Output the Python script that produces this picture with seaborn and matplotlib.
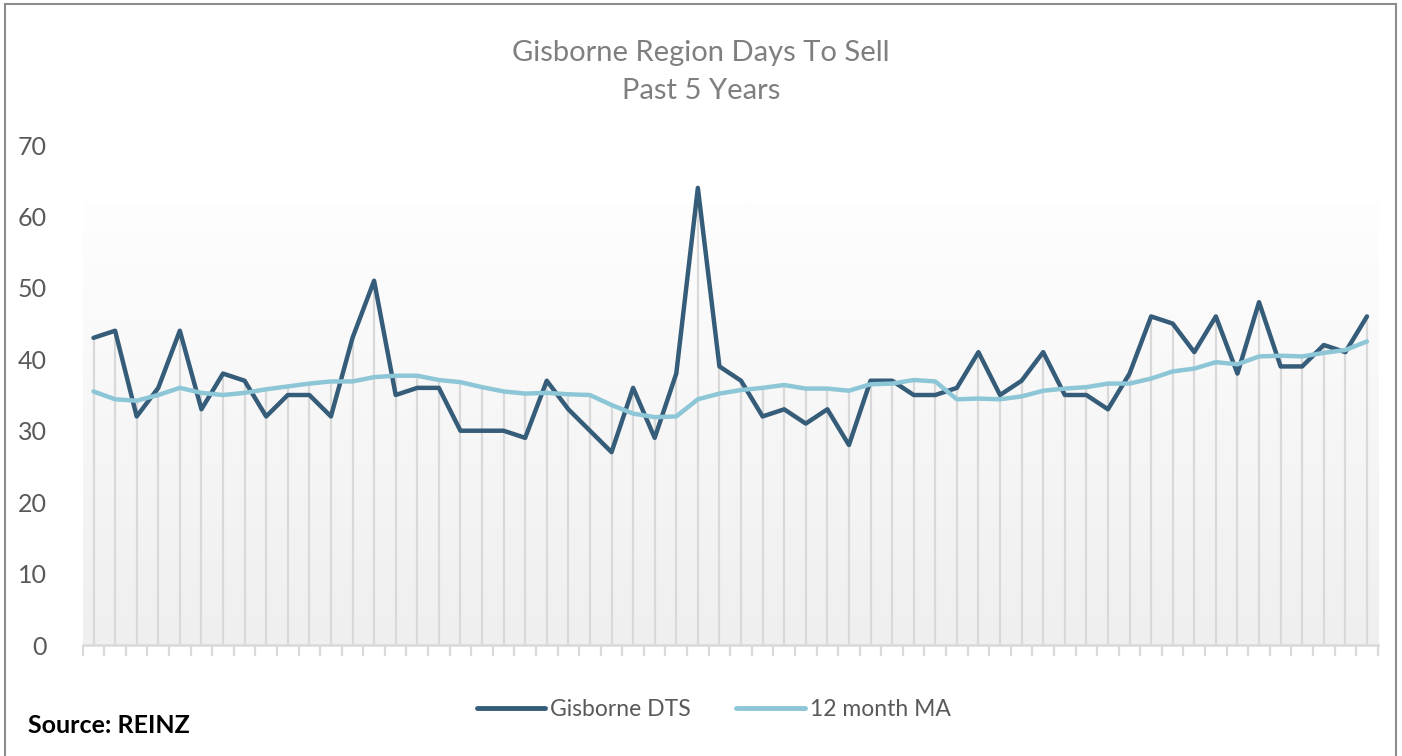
import numpy as np
import pandas as pd
import matplotlib.pyplot as plt
import seaborn as sns
from matplotlib.patches import Rectangle

sns.set_style("white")
plt.rcParams["font.family"] = ["Lato", "DejaVu Sans"]

# ------------------------------------------------------------
# Data: monthly days-to-sell, last 5 years (60 months)
# ------------------------------------------------------------
dts = [43, 44, 32, 36, 44, 33, 38, 37, 32, 35, 35, 32,
       43, 51, 35, 36, 36, 30, 30, 30, 29, 37, 33, 30,
       27, 36, 29, 38, 64, 39, 37, 32, 33, 31, 33, 28,
       37, 37, 35, 35, 36, 41, 35, 37, 41, 35, 35, 33,
       38, 46, 45, 41, 46, 38, 48, 39, 39, 42, 41, 46]
ma12 = [35.5, 34.4, 34.2, 35.0, 36.0, 35.3, 35.0, 35.3, 35.8, 36.2, 36.6, 36.9,
        36.9, 37.5, 37.7, 37.7, 37.1, 36.8, 36.1, 35.5, 35.2, 35.3, 35.1, 35.0,
        33.6, 32.4, 31.9, 32.0, 34.4, 35.2, 35.7, 36.0, 36.4, 35.9, 35.9, 35.6,
        36.5, 36.6, 37.1, 36.9, 34.4, 34.5, 34.4, 34.8, 35.6, 35.9, 36.1, 36.6,
        36.6, 37.3, 38.3, 38.7, 39.6, 39.3, 40.4, 40.5, 40.4, 40.9, 41.3, 42.5]
series_names = ["Gisborne DTS", "12 month MA"]
colors = ["#355c78", "#8dc6d6"]
yticks = [0, 10, 20, 30, 40, 50, 60, 70]

df = pd.DataFrame({"month": np.arange(len(dts)), "Gisborne DTS": dts, "12 month MA": ma12})
long = df.melt(id_vars="month", var_name="series", value_name="days")

fig = plt.figure(figsize=(14.02, 7.56), dpi=100)
ax = fig.add_axes([0.059, 0.1468, 0.9237, 0.6614])

# soft gradient plot background
grad = np.linspace(0, 1, 256).reshape(-1, 1)
ax.imshow(grad, extent=(-0.5, len(dts) - 0.5, 0, 62), origin="lower",
          cmap=sns.blend_palette(["#efefef", "#fefefe"], as_cmap=True),
          aspect="auto", zorder=0)

# drop lines from each month down to the axis
tops = np.maximum(df["Gisborne DTS"], df["12 month MA"])
ax.vlines(df["month"], 0, tops, color="#d9d9d9", lw=1.6, zorder=1)

sns.lineplot(data=long, x="month", y="days", hue="series", hue_order=series_names,
             palette=colors, lw=3.2, ax=ax, zorder=3, legend=False)

ax.set_xlim(-0.5, len(dts) - 0.5)
ax.set_ylim(0, 70)
ax.set_yticks(yticks)
ax.set_yticklabels([str(v) for v in yticks], fontsize=18, color="#595959")
ax.tick_params(axis="y", length=0, pad=26)
ax.set_xticks(np.arange(len(dts) + 1) - 0.5)
ax.set_xticklabels([])
ax.tick_params(axis="x", bottom=True, length=8, width=1.6, color="#d9d9d9", direction="out")
ax.set_xlabel("")
ax.set_ylabel("")
for s in ["top", "right", "left"]:
    ax.spines[s].set_visible(False)
ax.spines["bottom"].set_color("#d9d9d9")
ax.spines["bottom"].set_linewidth(1.8)

fig.text(0.5, 0.930, "Gisborne Region Days To Sell", ha="center", va="center",
         fontsize=21, color="#7f7f7f")
fig.text(0.5, 0.880, "Past 5 Years", ha="center", va="center",
         fontsize=21, color="#7f7f7f")

handles = [plt.Line2D([], [], color=c, lw=3.5, solid_capstyle="round") for c in colors]
fig.legend(handles, series_names, loc="center", bbox_to_anchor=(0.509, 0.061),
           ncol=2, frameon=False, fontsize=16.5, labelcolor="#595959",
           handlelength=3.0, handletextpad=0.2, columnspacing=2.0)

fig.text(0.02, 0.040, "Source: REINZ", ha="left", va="center", fontsize=18,
         fontweight="bold", color="black")

# outer chart frame
fig.patches.append(Rectangle((0.0035, -0.01), 0.9925, 1.005, transform=fig.transFigure,
                             fill=False, edgecolor="#8c8c8c", lw=1.5))

fig.savefig("out.png", dpi=100)
